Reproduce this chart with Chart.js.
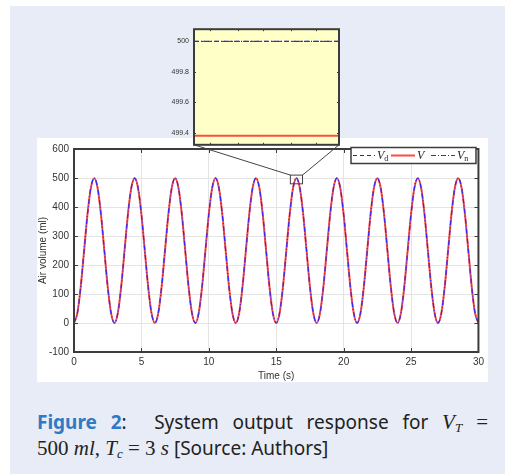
<!DOCTYPE html>
<html>
<head>
<meta charset="utf-8">
<script src="https://cdn.jsdelivr.net/npm/chart.js@4.4.1/dist/chart.umd.min.js"></script>
<style>
body { margin:0; background:#fff; width:505px; height:474px; overflow:hidden; position:relative; }
#panel { position:absolute; left:10px; top:6px; width:495px; height:468px; background:#e8ecf6; }
#wrapMain { position:absolute; left:37px; top:138px; width:451px; height:244px; background:#fff; }
#wrapInset { position:absolute; left:160px; top:20px; width:181px; height:134px; }
#caption { position:absolute; left:37px; top:409px; width:451px; font-family:"Noto Sans", sans-serif; font-size:19px; line-height:26px; color:#222; }
#caption .l1 { text-align:justify; text-align-last:justify; }
#caption .fig { color:#2f7ac4; font-weight:bold; }
#caption .m { font-family:"Liberation Serif", "DejaVu Serif", serif; font-size:21px; }
#caption i { font-family:"Liberation Serif", serif; }
#caption sub { font-size:13px; vertical-align:-3px; line-height:0; }
</style>
</head>
<body>
<div id="panel"></div>
<div id="wrapMain"><canvas id="canvMain" width="451" height="244"></canvas></div>
<div id="wrapInset"><canvas id="canvInset" width="181" height="134"></canvas></div>
<div id="caption">
  <div class="l1"><span class="fig">Figure 2</span>: &nbsp;System output response for <span class="m"><i>V</i><sub><i>T</i></sub> =</span></div>
  <div><span class="m">500 <i>ml</i>, <i>T</i><sub><i>c</i></sub> = 3 <i>s</i></span> [Source: Authors]</div>
</div>
<script>
// time axis (s), one sample every quarter second
const timeS = [
  0, 0.25, 0.5, 0.75, 1, 1.25, 1.5, 1.75, 2, 2.25, 2.5, 2.75,
  3, 3.25, 3.5, 3.75, 4, 4.25, 4.5, 4.75, 5, 5.25, 5.5, 5.75,
  6, 6.25, 6.5, 6.75, 7, 7.25, 7.5, 7.75, 8, 8.25, 8.5, 8.75,
  9, 9.25, 9.5, 9.75, 10, 10.25, 10.5, 10.75, 11, 11.25, 11.5, 11.75,
  12, 12.25, 12.5, 12.75, 13, 13.25, 13.5, 13.75, 14, 14.25, 14.5, 14.75,
  15, 15.25, 15.5, 15.75, 16, 16.25, 16.5, 16.75, 17, 17.25, 17.5, 17.75,
  18, 18.25, 18.5, 18.75, 19, 19.25, 19.5, 19.75, 20, 20.25, 20.5, 20.75,
  21, 21.25, 21.5, 21.75, 22, 22.25, 22.5, 22.75, 23, 23.25, 23.5, 23.75,
  24, 24.25, 24.5, 24.75, 25, 25.25, 25.5, 25.75, 26, 26.25, 26.5, 26.75,
  27, 27.25, 27.5, 27.75, 28, 28.25, 28.5, 28.75, 29, 29.25, 29.5, 29.75,
  30
];

// desired volume Vd (ml)
const volDesired = [
  0, 34, 125, 250, 375, 466, 500, 466, 375, 250, 125, 34,
  0, 34, 125, 250, 375, 466, 500, 466, 375, 250, 125, 34,
  0, 34, 125, 250, 375, 466, 500, 466, 375, 250, 125, 34,
  0, 34, 125, 250, 375, 466, 500, 466, 375, 250, 125, 34,
  0, 34, 125, 250, 375, 466, 500, 466, 375, 250, 125, 34,
  0, 34, 125, 250, 375, 466, 500, 466, 375, 250, 125, 34,
  0, 34, 125, 250, 375, 466, 500, 466, 375, 250, 125, 34,
  0, 34, 125, 250, 375, 466, 500, 466, 375, 250, 125, 34,
  0, 34, 125, 250, 375, 466, 500, 466, 375, 250, 125, 34,
  0, 34, 125, 250, 375, 466, 500, 466, 375, 250, 125, 34,
  0
];

// output volume V (ml)
const volOutput = [
  0, 34, 125, 250, 375, 466, 499.4, 466, 375, 250, 125, 34,
  0, 34, 125, 250, 375, 466, 499.4, 466, 375, 250, 125, 34,
  0, 34, 125, 250, 375, 466, 499.4, 466, 375, 250, 125, 34,
  0, 34, 125, 250, 375, 466, 499.4, 466, 375, 250, 125, 34,
  0, 34, 125, 250, 375, 466, 499.4, 466, 375, 250, 125, 34,
  0, 34, 125, 250, 375, 466, 499.4, 466, 375, 250, 125, 34,
  0, 34, 125, 250, 375, 466, 499.4, 466, 375, 250, 125, 34,
  0, 34, 125, 250, 375, 466, 499.4, 466, 375, 250, 125, 34,
  0, 34, 125, 250, 375, 466, 499.4, 466, 375, 250, 125, 34,
  0, 34, 125, 250, 375, 466, 499.4, 466, 375, 250, 125, 34,
  0
];

// nominal volume Vn (ml)
const volNominal = [
  0, 34, 125, 250, 375, 466, 500, 466, 375, 250, 125, 34,
  0, 34, 125, 250, 375, 466, 500, 466, 375, 250, 125, 34,
  0, 34, 125, 250, 375, 466, 500, 466, 375, 250, 125, 34,
  0, 34, 125, 250, 375, 466, 500, 466, 375, 250, 125, 34,
  0, 34, 125, 250, 375, 466, 500, 466, 375, 250, 125, 34,
  0, 34, 125, 250, 375, 466, 500, 466, 375, 250, 125, 34,
  0, 34, 125, 250, 375, 466, 500, 466, 375, 250, 125, 34,
  0, 34, 125, 250, 375, 466, 500, 466, 375, 250, 125, 34,
  0, 34, 125, 250, 375, 466, 500, 466, 375, 250, 125, 34,
  0, 34, 125, 250, 375, 466, 500, 466, 375, 250, 125, 34,
  0
];

const xTicks = [0, 5, 10, 15, 20, 25, 30];
const yTicks = [-100, 0, 100, 200, 300, 400, 500, 600];

// zoomed-in window around the 6th peak
const zoomTime = [16.05, 16.95];
const zoomBoxVol = [480, 510];
const insetTime = [16.05, 16.95];
const insetDesired = [500, 500];
const insetOutput = [499.38, 499.38];
const insetNominal = [500, 500];
const insetXTicks = [16.15, 16.32, 16.48, 16.65, 16.81];
const insetYTicks = [499.4, 499.6, 499.8, 500];

const legendNames = [['V', 'd'], ['V', ''], ['V', 'n']];

const lineStyles = [
  {color:'#333344', width:1, dash:[4, 3]},
  {color:'#ff4b3e', width:2, dash:[]},
  {color:'#2a2aff', width:1.2, dash:[5, 2, 1, 2]}
];

const toXY = (xs, ys) => xs.map((x, i) => ({x:x, y:ys[i]}));

function makeSets(xs, series) {
    return series.map((ys, i) => ({
        label: legendNames[i].join(''),
        data: toXY(xs, ys),
        borderColor: lineStyles[i].color,
        borderWidth: lineStyles[i].width,
        borderDash: lineStyles[i].dash,
        pointRadius: 0,
        cubicInterpolationMode: 'monotone',
        order: 3 - i
    }));
}

// draws frame + inward tick marks like matlab
function drawFrame(chart, xs, ys, len) {
    const ctx = chart.ctx, a = chart.chartArea;
    const sx = chart.scales.x, sy = chart.scales.y;
    ctx.save();
    ctx.strokeStyle = '#3c3c3c';
    ctx.lineWidth = 1;
    ctx.beginPath();
    xs.forEach(v => {
        const px = Math.round(sx.getPixelForValue(v)) + 0.5;
        ctx.moveTo(px, a.bottom); ctx.lineTo(px, a.bottom - len);
        ctx.moveTo(px, a.top); ctx.lineTo(px, a.top + len);
    });
    ys.forEach(v => {
        const py = Math.round(sy.getPixelForValue(v)) + 0.5;
        ctx.moveTo(a.left, py); ctx.lineTo(a.left + len, py);
        ctx.moveTo(a.right, py); ctx.lineTo(a.right - len, py);
    });
    ctx.stroke();
    ctx.lineWidth = 2;
    ctx.strokeRect(a.left, a.top, a.right - a.left, a.bottom - a.top);
    ctx.restore();
}

const insetPlugin = {
    id: 'insetPlugin',
    beforeDraw(chart) {
        const a = chart.chartArea;
        chart.ctx.save();
        chart.ctx.fillStyle = '#ffffc8';
        chart.ctx.fillRect(a.left, a.top, a.right - a.left, a.bottom - a.top);
        chart.ctx.restore();
    },
    afterDraw(chart) {
        drawFrame(chart, insetXTicks, insetYTicks, 2);
    }
};

var insetChart = new Chart(document.getElementById('canvInset'), {
    type: 'line',
    data: { datasets: makeSets(insetTime, [insetDesired, insetOutput, insetNominal]) },
    options: {
        responsive: false,
        animation: false,
        layout: { padding: {top:4, right:2, bottom:2, left:0} },
        plugins: { legend: {display:false}, tooltip: {enabled:false} },
        scales: {
            x: { type:'linear', min:insetTime[0], max:insetTime[1], display:false },
            y: {
                min: 499.32, max: 500.08,
                afterBuildTicks: s => { s.ticks = insetYTicks.map(v => ({value:v})); },
                afterFit: s => { s.width = 34; },
                grid: { display:false, drawTicks:false },
                border: { display:false },
                ticks: {
                    padding: 5, color:'#333',
                    font: {family:'Arial, "Liberation Sans"', size:7},
                    callback: v => v == 500 ? '500' : v.toFixed(1)
                }
            }
        }
    },
    plugins: [insetPlugin]
});

const mainPlugin = {
    id: 'mainPlugin',
    afterDraw(chart) {
        const ctx = chart.ctx;
        const sx = chart.scales.x, sy = chart.scales.y;
        drawFrame(chart, xTicks, yTicks, 4);

        // zoom box + connector lines to the inset
        const x0 = sx.getPixelForValue(zoomTime[0]), x1 = sx.getPixelForValue(zoomTime[1]);
        const y0 = sy.getPixelForValue(zoomBoxVol[1]), y1 = sy.getPixelForValue(zoomBoxVol[0]);
        const mr = chart.canvas.getBoundingClientRect();
        const ir = insetChart.canvas.getBoundingClientRect();
        const ia = insetChart.chartArea;
        const ix0 = ia.left + ir.left - mr.left, ix1 = ia.right + ir.left - mr.left;
        const iy = ia.bottom + ir.top - mr.top;
        ctx.save();
        ctx.strokeStyle = '#444';
        ctx.lineWidth = 1;
        ctx.strokeRect(x0, y0, x1 - x0, y1 - y0);
        ctx.beginPath();
        ctx.moveTo(ix0, iy); ctx.lineTo(x0, y0);
        ctx.moveTo(ix1, iy); ctx.lineTo(x1, y0);
        ctx.stroke();

        // legend box
        const lx = 314, ly = 9.5, lw = 125, lh = 16;
        ctx.fillStyle = '#fff';
        ctx.fillRect(lx, ly, lw, lh);
        ctx.strokeStyle = '#3c3c3c';
        ctx.lineWidth = 1.5;
        ctx.strokeRect(lx, ly, lw, lh);
        const segs = [[316, 338], [354, 378], [394, 418]];
        const cy = ly + lh / 2;
        legendNames.forEach((nm, i) => {
            const st = lineStyles[i];
            ctx.strokeStyle = st.color;
            ctx.lineWidth = st.width;
            ctx.setLineDash(st.dash);
            ctx.beginPath();
            ctx.moveTo(segs[i][0], cy); ctx.lineTo(segs[i][1], cy);
            ctx.stroke();
            ctx.setLineDash([]);
            ctx.fillStyle = '#222';
            ctx.textBaseline = 'middle';
            ctx.font = 'italic 12px "Liberation Serif", serif';
            const tx = segs[i][1] + 2;
            ctx.fillText(nm[0], tx, cy);
            if (nm[1]) {
                const w = ctx.measureText(nm[0]).width;
                ctx.font = '8px "Liberation Serif", serif';
                ctx.fillText(nm[1], tx + w, cy + 3);
            }
        });
        ctx.restore();
    }
};

var mainChart = new Chart(document.getElementById('canvMain'), {
    type: 'line',
    data: { datasets: makeSets(timeS, [volDesired, volOutput, volNominal]) },
    options: {
        responsive: false,
        animation: false,
        layout: { padding: {top:4, right:6, bottom:0, left:0} },
        plugins: { legend: {display:false}, tooltip: {enabled:false} },
        scales: {
            x: {
                type: 'linear', min: 0, max: 30,
                afterBuildTicks: s => { s.ticks = xTicks.map(v => ({value:v})); },
                afterFit: s => { s.height = 30; },
                grid: { color:'#e4e4e4', drawTicks:false },
                border: { display:false },
                ticks: { padding:4, color:'#333', font:{family:'Arial, "Liberation Sans"', size:10} },
                title: { display:true, text:'Time (s)', color:'#333', padding:0, font:{family:'Arial, "Liberation Sans"', size:10} }
            },
            y: {
                min: -100, max: 600,
                afterBuildTicks: s => { s.ticks = yTicks.map(v => ({value:v})); },
                afterFit: s => { s.width = 37; },
                grid: { color:'#e4e4e4', drawTicks:false },
                border: { display:false },
                ticks: { padding:5, color:'#333', font:{family:'Arial, "Liberation Sans"', size:10} },
                title: { display:true, text:'Air volume (ml)', color:'#333', padding:0, font:{family:'Arial, "Liberation Sans"', size:10} }
            }
        }
    },
    plugins: [mainPlugin]
});
</script>
</body>
</html>
